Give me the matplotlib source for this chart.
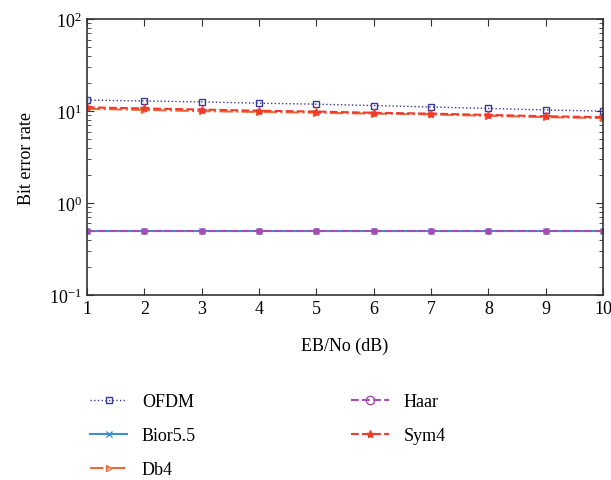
import numpy as np
import matplotlib
matplotlib.use("Agg")
import matplotlib.pyplot as plt
from matplotlib.lines import Line2D
from matplotlib.ticker import LogLocator, NullFormatter

plt.rcParams['font.family'] = ['Liberation Serif', 'DejaVu Serif']
plt.rcParams['mathtext.fontset'] = 'stix'

ebno = [1, 2, 3, 4, 5, 6, 7, 8, 9, 10]
ofdm = [13.2, 12.9, 12.6, 12.2, 11.9, 11.5, 11.1, 10.7, 10.3, 10.0]
bior = [0.5, 0.5, 0.5, 0.5, 0.5, 0.5, 0.5, 0.5, 0.5, 0.5]
db4 = [10.6, 10.3, 10.0, 9.8, 9.6, 9.4, 9.2, 8.9, 8.6, 8.4]
haar = [0.5, 0.5, 0.5, 0.5, 0.5, 0.5, 0.5, 0.5, 0.5, 0.5]
sym4 = [11.0, 10.7, 10.4, 10.1, 9.9, 9.6, 9.4, 9.1, 8.8, 8.6]

fig = plt.figure(figsize=(6.11, 4.81), dpi=100)
ax = fig.add_axes([0.1424, 0.3846, 0.8446, 0.5734])

l1, = ax.plot(ebno, ofdm, linestyle=':', color='#3a3a9a', marker='s', ms=4,
              mfc='none', mew=1.0, lw=1.0, label='OFDM')
l2, = ax.plot(ebno, bior, linestyle='-', color='#3d8fd0', marker='x', ms=5,
              lw=1.5, label='Bior5.5')
l3, = ax.plot(ebno, db4, linestyle='-.', color='#e86a3a', marker='>', ms=5,
              mfc='none', lw=1.5, label='Db4')
ax.plot(ebno, haar, linestyle='--', color='#a84cb0', marker='o', ms=4,
        mfc='#a84cb0', lw=1.5)
l5, = ax.plot(ebno, sym4, linestyle='--', color='#f03a2c', marker='*', ms=6,
              lw=1.5, label='Sym4')
# legend shows Haar with an open circle
l4 = Line2D([], [], linestyle='--', color='#a84cb0', marker='o', ms=6,
            mfc='none', lw=1.5, label='Haar')

ax.set_yscale('log')
ax.set_xlim(1, 10)
ax.set_ylim(0.1, 100)
ax.set_xticks(ebno)
ax.yaxis.set_major_locator(LogLocator(base=10, numticks=10))
ax.yaxis.set_minor_locator(LogLocator(base=10, subs=np.arange(2, 10), numticks=10))
ax.yaxis.set_minor_formatter(NullFormatter())
ax.tick_params(which='both', direction='in', top=True, right=True,
               labelsize=13, color='#333333')
ax.tick_params(which='major', length=5)
ax.tick_params(which='minor', length=3)
for s in ax.spines.values():
    s.set_linewidth(1.2)
    s.set_color('#333333')

ax.set_xlabel('EB/No (dB)', fontsize=13, labelpad=14)
ax.set_ylabel('Bit error rate', fontsize=13, labelpad=10)

fig.legend(handles=[l1, l2, l3, l4, l5], loc='upper left',
           bbox_to_anchor=(0.12, 0.215), ncol=2, frameon=False, fontsize=13,
           handlelength=2.1, columnspacing=8.6, labelspacing=0.95,
           handletextpad=0.8)

fig.savefig('out.png', dpi=100)
